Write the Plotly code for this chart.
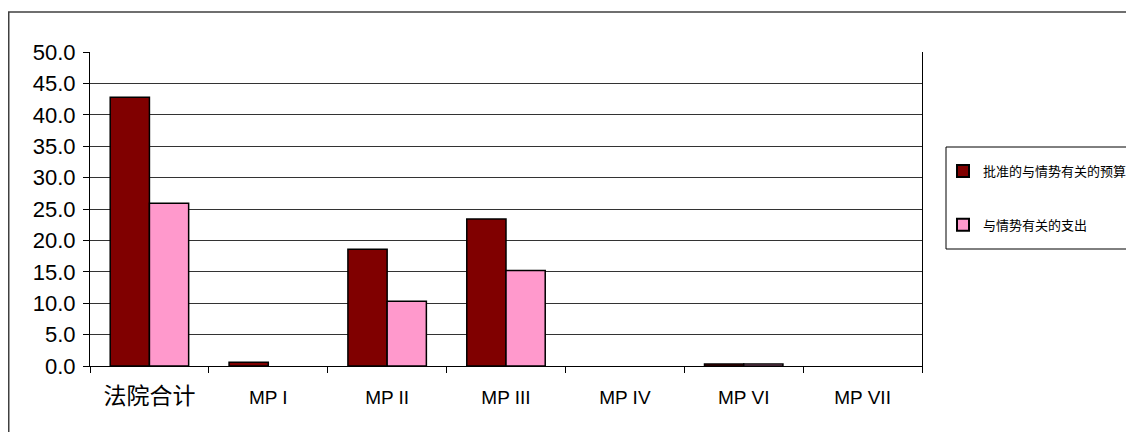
import plotly.graph_objects as go

categories = ["法院合计", "MP I", "MP II", "MP III", "MP IV", "MP VI", "MP VII"]
budget = [42.8, 0.6, 18.6, 23.4, 0.0, 0.3, 0.0]
spent = [25.9, 0.0, 10.3, 15.2, 0.0, 0.3, 0.0]
series_names = ["批准的与情势有关的预算", "与情势有关的支出"]
y_ticks = [0, 5, 10, 15, 20, 25, 30, 35, 40, 45, 50]

W, H = 1134, 432
L, R, T, B = 82, 220, 44, 74
pw, ph = W - L - R, H - T - B

def px_x(x):
    return (x - L) / pw

def px_y(y):
    return (H - B - y) / ph

tick_text = [("<span style='font-size:23px'>%s</span>" % c) if not c.startswith("MP") else c
             for c in categories]

fig = go.Figure()
fig.add_trace(go.Bar(x=categories, y=budget, name=series_names[0], legendgroup="a",
                     marker=dict(color="#800000",
                                 line=dict(color="#000000",
                                           width=[1.5 if v > 0 else 0 for v in budget]))))
fig.add_trace(go.Bar(x=categories, y=spent, name=series_names[1], legendgroup="b",
                     marker=dict(color="#FF99CC",
                                 line=dict(color="#000000",
                                           width=[1.5 if v > 0 else 0 for v in spent]))))

fig.update_layout(
    width=W, height=H,
    margin=dict(l=L, r=R, t=T, b=B, pad=0),
    paper_bgcolor="white", plot_bgcolor="white",
    barmode="group", bargap=0.34, bargroupgap=0,
    showlegend=True,
    legend=dict(xref="container", yref="container", x=935 / W, y=1 - 148 / H,
                xanchor="left", yanchor="top",
                borderwidth=0, bgcolor="rgba(0,0,0,0)",
                font=dict(family="Noto Sans CJK SC", size=13, color="#000000"),
                traceorder="grouped", tracegroupgap=34,
                itemsizing="constant"),
    xaxis=dict(type="category", showline=True, linecolor="#000000", linewidth=1,
               mirror=False, ticks="outside", tickson="boundaries", ticklen=6,
               tickcolor="#000000", showgrid=False,
               tickvals=categories, ticktext=tick_text, ticklabelstandoff=14,
               tickfont=dict(family="Liberation Sans, Noto Sans CJK SC", size=19, color="#000000")),
    yaxis=dict(range=[0, 50], tickvals=y_ticks, tickformat=".1f",
               showline=True, linecolor="#000000", linewidth=1, mirror=True,
               ticks="outside", ticklen=6, tickcolor="#000000", ticklabelstandoff=3,
               showgrid=True, gridcolor="#333333", gridwidth=1, zeroline=False,
               tickfont=dict(family="Liberation Sans", size=22, color="#000000")),
    shapes=[
        dict(type="rect", xref="paper", yref="paper",
             x0=px_x(0.75), x1=px_x(1160), y0=px_y(460), y1=px_y(4),
             line=dict(color="#404040", width=1.5), fillcolor="rgba(0,0,0,0)",
             layer="below"),
        dict(type="rect", xref="paper", yref="paper",
             x0=px_x(938), x1=px_x(1160), y0=px_y(241), y1=px_y(139),
             line=dict(color="#000000", width=1), fillcolor="rgba(0,0,0,0)",
             layer="below"),
    ],
)

fig.write_html("out.html")
